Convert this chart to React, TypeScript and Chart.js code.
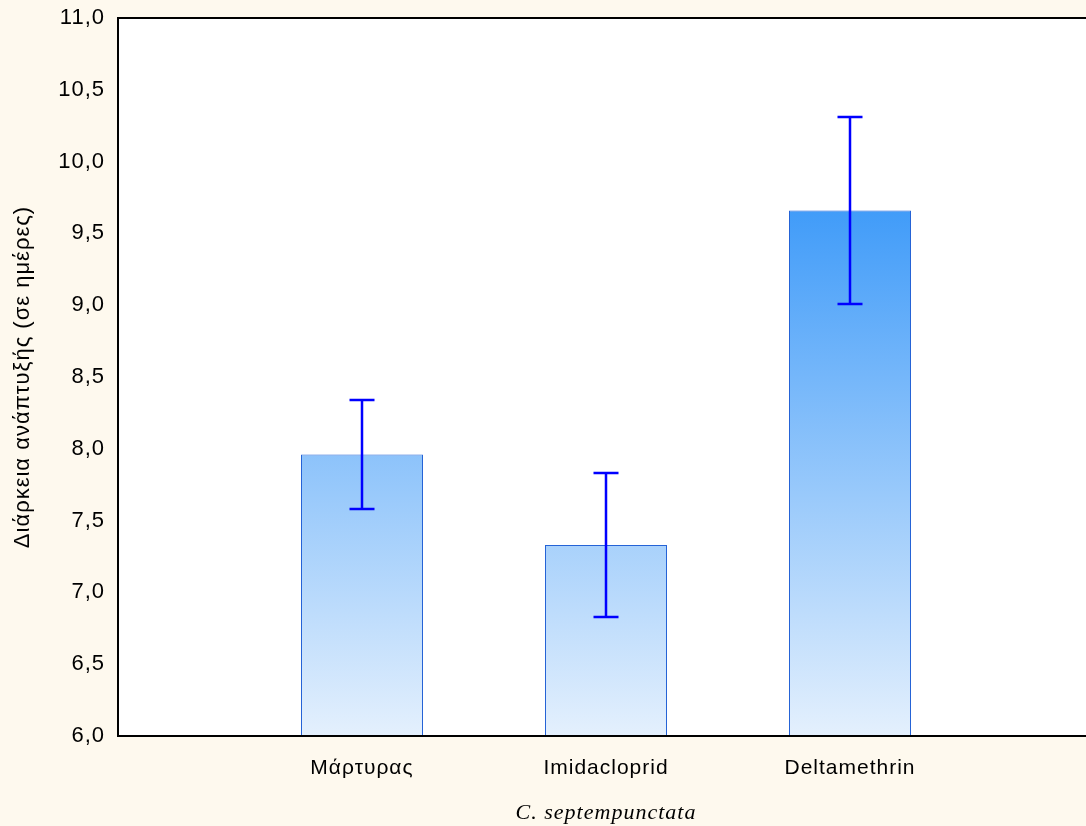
import React, { useEffect, useRef } from 'react';
import Chart from 'chart.js/auto';

const categories = ['', 'Μάρτυρας', 'Imidacloprid', 'Deltamethrin', ''];
const means: (number | null)[] = [null, 7.96, 7.33, 9.66, null];
const errors: (number | null)[] = [null, 0.38, 0.5, 0.65, null];
const yTicks = [6.0, 6.5, 7.0, 7.5, 8.0, 8.5, 9.0, 9.5, 10.0, 10.5, 11.0];
const yTitle = 'Διάρκεια ανάπτυξής (σε ημέρες)';
const xTitle = 'C. septempunctata';

const CREAM = '#FEF9EE';
const SANS = "'Liberation Sans', Arial, sans-serif";

export default function App() {
  const ref = useRef<HTMLCanvasElement | null>(null);

  useEffect(() => {
    const canvas = ref.current;
    if (!canvas) return;

    const setSpacing = (chart: any) => {
      try {
        (chart.ctx as any).letterSpacing = '1px';
      } catch (e) {
        /* ignore */
      }
    };

    const framePlugin = {
      id: 'frame',
      beforeInit: setSpacing,
      beforeUpdate: setSpacing,
      beforeLayout: setSpacing,
      beforeDraw(chart: any) {
        setSpacing(chart);
        const { ctx, chartArea: a, width, height } = chart;
        ctx.save();
        ctx.fillStyle = CREAM;
        ctx.fillRect(0, 0, width, height);
        ctx.fillStyle = '#FFFFFF';
        ctx.fillRect(a.left, a.top, a.right - a.left, a.bottom - a.top);
        ctx.restore();
      },
      afterDatasetsDraw(chart: any) {
        const { ctx } = chart;
        const yS = chart.scales.y;
        const meta = chart.getDatasetMeta(0);
        ctx.save();
        ctx.strokeStyle = '#0000FF';
        ctx.lineWidth = 2.5;
        means.forEach((m, i) => {
          const e = errors[i];
          if (m == null || e == null) return;
          const x = Math.round(meta.data[i].x);
          const yt = Math.round(yS.getPixelForValue(m + e));
          const yb = Math.round(yS.getPixelForValue(m - e));
          ctx.beginPath();
          ctx.moveTo(x, yt);
          ctx.lineTo(x, yb);
          ctx.moveTo(x - 12.5, yt);
          ctx.lineTo(x + 12.5, yt);
          ctx.moveTo(x - 12.5, yb);
          ctx.lineTo(x + 12.5, yb);
          ctx.stroke();
        });
        ctx.restore();
      },
      afterDraw(chart: any) {
        const { ctx, chartArea: a } = chart;
        ctx.save();
        ctx.strokeStyle = '#000000';
        ctx.lineWidth = 2;
        ctx.beginPath();
        ctx.moveTo(a.right, a.top);
        ctx.lineTo(a.left, a.top);
        ctx.lineTo(a.left, a.bottom);
        ctx.lineTo(a.right, a.bottom);
        ctx.stroke();
        ctx.restore();
      },
    };

    const chart = new Chart(canvas, {
      type: 'bar',
      data: {
        labels: categories,
        datasets: [
          {
            data: means as any,
            backgroundColor: (c: any) => {
              const a = c.chart.chartArea;
              if (!a) return '#8EC5FB';
              const g = c.chart.ctx.createLinearGradient(0, a.top, 0, a.bottom);
              g.addColorStop(0, 'rgb(5,125,247)');
              g.addColorStop(1, 'rgb(228,240,253)');
              return g;
            },
            borderColor: '#2563D6',
            borderWidth: 1,
            barPercentage: 0.5,
            categoryPercentage: 1,
          },
        ],
      },
      options: {
        responsive: false,
        animation: false,
        layout: { padding: { top: 18, right: 0, left: 0, bottom: 0 } },
        plugins: {
          legend: { display: false },
          tooltip: { enabled: false },
        },
        scales: {
          x: {
            offset: false,
            grid: { display: false, drawTicks: false },
            border: { display: false },
            ticks: {
              color: '#000',
              font: { family: SANS, size: 21 },
              padding: 20,
              autoSkip: false,
              maxRotation: 0,
            },
            title: {
              display: true,
              text: xTitle,
              color: '#000',
              font: { family: "'Liberation Serif', 'Times New Roman', serif", style: 'italic', size: 22 },
              padding: { top: 0, bottom: 0 },
            },
            afterFit: (s: any) => {
              s.height = 90;
              s.paddingLeft = 0;
              s.paddingRight = 0;
            },
          },
          y: {
            min: 6,
            max: 11,
            afterBuildTicks: (s: any) => {
              s.ticks = yTicks.map((v) => ({ value: v }));
            },
            grid: { display: false, drawTicks: false },
            border: { display: false },
            ticks: {
              color: '#000',
              font: { family: SANS, size: 22 },
              padding: 13,
              callback: (v: any) => Number(v).toFixed(1).replace('.', ','),
            },
            title: {
              display: true,
              text: yTitle,
              color: '#000',
              font: { family: SANS, size: 22 },
              padding: { top: 10, bottom: 0 },
            },
            afterFit: (s: any) => {
              s.width = 118;
              s.paddingTop = 0;
              s.paddingBottom = 0;
            },
          },
        },
      },
      plugins: [framePlugin],
    });

    return () => chart.destroy();
  }, []);

  return (
    <div
      style={{
        position: 'fixed',
        left: 0,
        top: 0,
        width: 1086,
        height: 826,
        overflow: 'hidden',
        background: CREAM,
      }}
    >
      <canvas ref={ref} width={1094} height={826} style={{ display: 'block' }} />
    </div>
  );
}
